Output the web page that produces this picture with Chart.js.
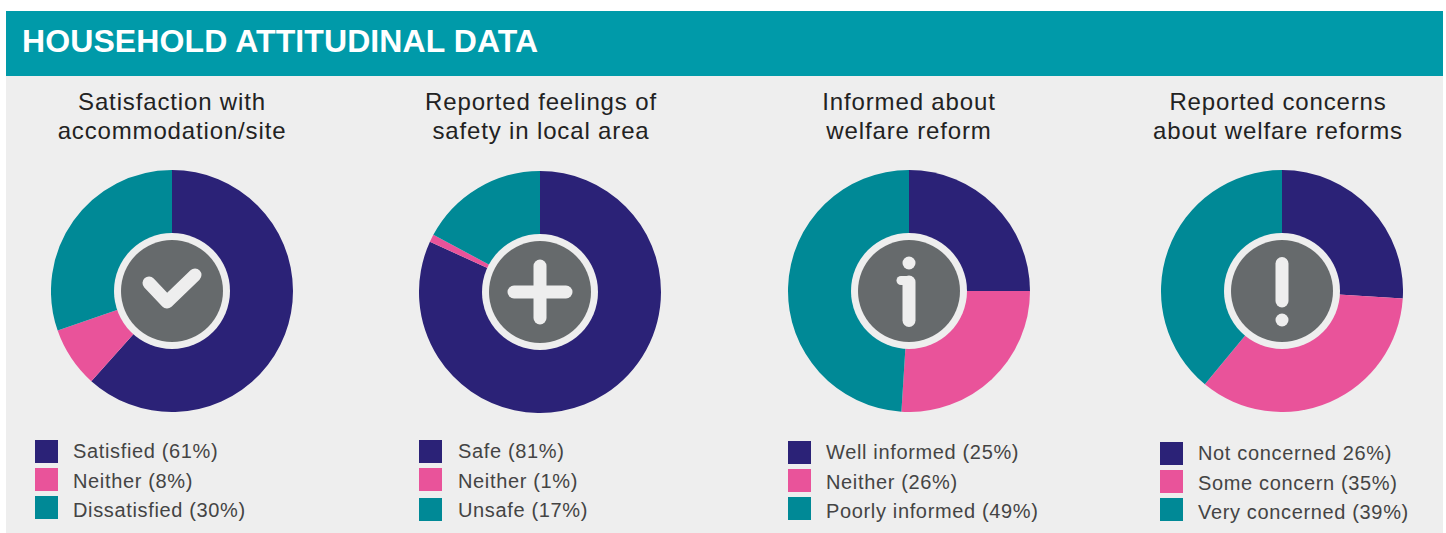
<!DOCTYPE html>
<html>
<head>
<meta charset="utf-8">
<script src="https://cdn.jsdelivr.net/npm/chart.js@4"></script>
<style>
html, body { margin: 0; padding: 0; background: #fff; overflow: hidden; }
body { position: relative; width: 1446px; height: 533px; font-family: "Liberation Sans", sans-serif; }
#header { position: absolute; left: 6px; top: 11px; width: 1437px; height: 65px; background: #009aa9; color: #fff;
    font-weight: bold; font-size: 32px; letter-spacing: 0.1px; line-height: 61px; text-indent: 16px; }
#panel { position: absolute; left: 6px; top: 76px; width: 1437px; height: 457px; background: #eeeeee; }
.title { position: absolute; top: 87px; width: 340px; text-align: center; font-size: 24px; letter-spacing: 0.85px; line-height: 29px; color: #222; }
.pie { position: absolute; }
.swatch { position: absolute; width: 23px; height: 23px; }
.item { position: absolute; font-size: 20px; line-height: 23px; color: #444; letter-spacing: 0.65px; white-space: nowrap; }
</style>
</head>
<body>
<div id="header">HOUSEHOLD ATTITUDINAL DATA</div>
<div id="panel"></div>
<script>
// --- Data ---
const titles = [
    ['Satisfaction with', 'accommodation/site'],
    ['Reported feelings of', 'safety in local area'],
    ['Informed about', 'welfare reform'],
    ['Reported concerns', 'about welfare reforms']
];
const satisfactionValues = [61, 8, 30];
const safetyValues = [81, 1, 17];
const informedValues = [25, 26, 49];
const concernValues = [26, 35, 39];
const satisfactionLabels = ['Satisfied (61%)', 'Neither (8%)', 'Dissatisfied (30%)'];
const safetyLabels = ['Safe (81%)', 'Neither (1%)', 'Unsafe (17%)'];
const informedLabels = ['Well informed (25%)', 'Neither (26%)', 'Poorly informed (49%)'];
const concernLabels = ['Not concerned 26%)', 'Some concern (35%)', 'Very concerned (39%)'];
const colors = ['#2b2277', '#e9539a', '#008996'];

// --- Layout of the four columns ---
const columns = [
    { values: satisfactionValues, labels: satisfactionLabels, icon: 'check', titleX: 172, cx: 172, cy: 291, swatchX: 35, textX: 73, swatchY: [440, 468, 496], textY: 440 },
    { values: safetyValues, labels: safetyLabels, icon: 'plus', titleX: 541, cx: 540, cy: 292, swatchX: 419, textX: 458, swatchY: [440, 468, 498], textY: 440 },
    { values: informedValues, labels: informedLabels, icon: 'info', titleX: 909, cx: 909, cy: 291, swatchX: 788, textX: 826, swatchY: [441, 469, 497], textY: 441 },
    { values: concernValues, labels: concernLabels, icon: 'warn', titleX: 1278, cx: 1282, cy: 291, swatchX: 1160, textX: 1198, swatchY: [442, 470, 498], textY: 442 }
];
const radius = 121;
const textStep = 29.5;

function line(ctx, x1, y1, x2, y2, width) {
    ctx.lineWidth = width;
    ctx.beginPath();
    ctx.moveTo(x1, y1);
    ctx.lineTo(x2, y2);
    ctx.stroke();
}

function dot(ctx, x, y, r) {
    ctx.beginPath();
    ctx.arc(x, y, r, 0, Math.PI * 2);
    ctx.fill();
}

// Grey badge in the middle of each pie
const centerIcon = {
    id: 'centerIcon',
    afterDraw(chart, args, opts) {
        const ctx = chart.ctx;
        const x = chart.width / 2;
        const y = chart.height / 2;
        ctx.save();
        ctx.fillStyle = '#eeeeee';
        dot(ctx, x, y, 58);
        ctx.fillStyle = '#666a6c';
        dot(ctx, x, y, 51);
        ctx.strokeStyle = '#eeeeee';
        ctx.fillStyle = '#eeeeee';
        ctx.lineCap = 'round';
        ctx.lineJoin = 'round';
        if (opts.icon === 'check') {
            ctx.lineWidth = 13;
            ctx.beginPath();
            ctx.moveTo(x - 23, y - 8);
            ctx.lineTo(x - 5, y + 11);
            ctx.lineTo(x + 23, y - 16);
            ctx.stroke();
        } else if (opts.icon === 'plus') {
            line(ctx, x - 26, y, x + 26, y, 13);
            line(ctx, x, y - 26, x, y + 26, 13);
        } else if (opts.icon === 'info') {
            dot(ctx, x, y - 28, 6.5);
            line(ctx, x, y - 9, x, y + 29.5, 13);
            line(ctx, x - 8, y - 10.5, x, y - 10.5, 9);
        } else {
            line(ctx, x, y - 27.5, x, y + 10, 13);
            dot(ctx, x, y + 29, 6.5);
        }
        ctx.restore();
    }
};

function addDiv(cls, left, top, text) {
    const el = document.createElement('div');
    el.className = cls;
    el.style.left = left + 'px';
    el.style.top = top + 'px';
    if (text) el.textContent = text;
    document.body.appendChild(el);
    return el;
}

function initColumn(col, i) {
    const titleEl = addDiv('title', col.titleX - 170, 87);
    titleEl.innerHTML = titles[i].join('<br>');

    const canvas = document.createElement('canvas');
    canvas.className = 'pie';
    canvas.width = radius * 2;
    canvas.height = radius * 2;
    canvas.style.left = (col.cx - radius) + 'px';
    canvas.style.top = (col.cy - radius) + 'px';
    document.body.appendChild(canvas);

    new Chart(canvas.getContext('2d'), {
        type: 'pie',
        data: {
            labels: col.labels,
            datasets: [{ data: col.values, backgroundColor: colors, borderWidth: 0 }]
        },
        options: {
            responsive: false,
            animation: false,
            events: [],
            plugins: {
                legend: { display: false },
                tooltip: { enabled: false },
                centerIcon: { icon: col.icon }
            }
        },
        plugins: [centerIcon]
    });

    col.labels.forEach((label, k) => {
        addDiv('swatch', col.swatchX, col.swatchY[k]).style.background = colors[k];
        addDiv('item', col.textX, col.textY + k * textStep, label);
    });
}

columns.forEach(initColumn);
</script>
</body>
</html>
